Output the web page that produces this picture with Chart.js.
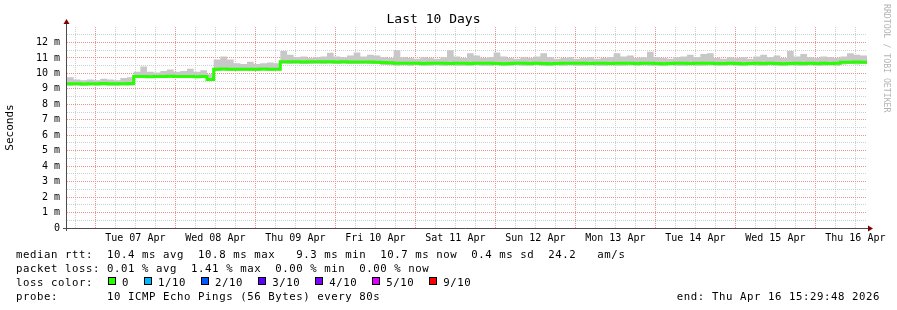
<!DOCTYPE html>
<html>
<head>
<meta charset="utf-8">
<title>Last 10 Days</title>
<script src="https://cdn.jsdelivr.net/npm/chart.js@4.4.1/dist/chart.umd.min.js"></script>
<style>
  body { margin: 0; background: #fff; }
  #wrap { position: relative; width: 897px; height: 310px; overflow: hidden; background: #fff; }
  #chart { position: absolute; left: 0; top: 0; }
  .txt { position: absolute; font-family: 'DejaVu Sans Mono', monospace; font-size: 10.7px; letter-spacing: 0.57px; line-height: 14.2px; color: #000; white-space: pre; }
  .sw { display: inline-block; width: 6px; height: 6px; border: 1px solid #000; margin: 0 6px 0 15px; vertical-align: 1px; }
  #mark { position: absolute; left: 882px; top: 4px; writing-mode: vertical-rl; font-family: 'DejaVu Sans Mono', monospace; font-size: 8.2px; color: #b4b4b4; white-space: pre; }
</style>
</head>
<body>
<div id="wrap">
  <canvas id="chart" width="897" height="310"></canvas>
  <div id="mark">RRDTOOL / TOBI OETIKER</div>
  <div class="txt" style="left:16px; top:247.7px;">median rtt:  10.4 ms avg  10.8 ms max   9.3 ms min  10.7 ms now  0.4 ms sd  24.2   am/s
packet loss: 0.01 % avg  1.41 % max  0.00 % min  0.00 % now
loss color:<span class="sw" style="background:#26ff00"></span>0<span class="sw" style="background:#00b8ff"></span>1/10<span class="sw" style="background:#0059ff"></span>2/10<span class="sw" style="background:#5e00ff"></span>3/10<span class="sw" style="background:#7e00ff"></span>4/10<span class="sw" style="background:#dd00ff"></span>5/10<span class="sw" style="background:#ff0000"></span>9/10
probe:       10 ICMP Echo Pings (56 Bytes) every 80s</div>
  <div class="txt" style="right:17px; top:290.3px;">end: Thu Apr 16 15:29:48 2026</div>
</div>
<script>
// 10 days = 240 h, one value per 2 h bin, start = Mon Apr 6 15:29:48
const spanHours = 240;
const binHours = 2;
const firstMidnight = 8.503; // hours from start to Tue 07 Apr 00:00
const dayLabels = ['Tue 07 Apr', 'Wed 08 Apr', 'Thu 09 Apr', 'Fri 10 Apr', 'Sat 11 Apr',
                   'Sun 12 Apr', 'Mon 13 Apr', 'Tue 14 Apr', 'Wed 15 Apr', 'Thu 16 Apr'];

// median rtt (ms)
const median = [
  9.33, 9.33, 9.32, 9.33, 9.33, 9.34, 9.33, 9.33, 9.33, 9.35,
  9.8, 9.8, 9.79, 9.8, 9.8, 9.81, 9.8, 9.8, 9.8, 9.79,
  9.8, 9.6, 10.27, 10.28, 10.27, 10.27, 10.26, 10.27, 10.27, 10.28,
  10.27, 10.27, 10.75, 10.76, 10.75, 10.74, 10.75, 10.76, 10.75, 10.75,
  10.74, 10.75, 10.74, 10.73, 10.74, 10.73, 10.72, 10.7, 10.68, 10.66,
  10.65, 10.66, 10.65, 10.64, 10.65, 10.66, 10.65, 10.64, 10.65, 10.65,
  10.64, 10.65, 10.66, 10.65, 10.64, 10.63, 10.64, 10.65, 10.65, 10.64,
  10.65, 10.64, 10.63, 10.64, 10.65, 10.65, 10.66, 10.65, 10.64, 10.65,
  10.65, 10.64, 10.65, 10.66, 10.65, 10.64, 10.65, 10.65, 10.64, 10.63,
  10.64, 10.65, 10.65, 10.64, 10.65, 10.66, 10.65, 10.64, 10.64, 10.65,
  10.64, 10.63, 10.64, 10.65, 10.64, 10.65, 10.64, 10.63, 10.64, 10.65,
  10.64, 10.65, 10.64, 10.65, 10.64, 10.65, 10.72, 10.72, 10.73, 10.72
];

// smoke: slowest ping per bin (ms)
const smokeMax = [
  9.75, 9.6, 9.55, 9.6, 9.55, 9.65, 9.6, 9.55, 9.7, 9.75,
  10.1, 10.45, 10.1, 10.05, 10.15, 10.25, 10.1, 10.15, 10.3, 10.1,
  10.2, 9.95, 10.9, 11.1, 10.9, 10.65, 10.6, 10.75, 10.6, 10.65,
  10.7, 10.65, 11.45, 11.2, 11.05, 11.1, 11.0, 11.05, 11.1, 11.33,
  11.1, 11.05, 11.15, 11.35, 11.1, 11.2, 11.15, 11.05, 11.0, 11.5,
  11.05, 11.0, 10.95, 11.05, 11.0, 10.95, 11.05, 11.5, 11.1, 11.0,
  11.3, 11.15, 11.0, 11.05, 11.35, 11.1, 11.0, 10.95, 11.05, 11.0,
  11.1, 11.3, 11.05, 10.95, 11.0, 11.05, 10.95, 11.0, 11.05, 10.95,
  11.0, 11.05, 11.3, 11.1, 11.15, 11.0, 11.05, 11.4, 11.05, 11.0,
  10.95, 11.05, 11.1, 11.2, 11.05, 11.25, 11.3, 11.0, 10.95, 11.05,
  11.0, 11.05, 10.95, 11.1, 11.2, 11.05, 11.15, 11.0, 11.45, 11.1,
  11.25, 11.05, 11.0, 11.1, 11.05, 11.0, 11.1, 11.3, 11.2, 11.15
];

// smoke: fastest ping per bin (ms)
const smokeMin = [
  9.2, 9.22, 9.2, 9.22, 9.2, 9.22, 9.2, 9.2, 9.22, 9.2,
  9.7, 9.72, 9.7, 9.72, 9.7, 9.7, 9.72, 9.7, 9.72, 9.7,
  9.72, 9.5, 10.15, 10.18, 10.15, 10.15, 10.18, 10.15, 10.15, 10.18,
  10.15, 10.18, 10.62, 10.6, 10.62, 10.6, 10.6, 10.62, 10.6, 10.62,
  10.6, 10.62, 10.6, 10.6, 10.62, 10.6, 10.6, 10.55, 10.52, 10.5,
  10.52, 10.5, 10.52, 10.5, 10.5, 10.52, 10.5, 10.52, 10.5, 10.5,
  10.5, 10.52, 10.5, 10.5, 10.52, 10.5, 10.5, 10.52, 10.5, 10.5,
  10.52, 10.5, 10.5, 10.52, 10.5, 10.52, 10.5, 10.5, 10.52, 10.5,
  10.5, 10.52, 10.5, 10.5, 10.52, 10.5, 10.52, 10.5, 10.5, 10.5,
  10.52, 10.5, 10.5, 10.52, 10.5, 10.5, 10.52, 10.5, 10.5, 10.52,
  10.5, 10.5, 10.52, 10.5, 10.5, 10.52, 10.5, 10.5, 10.52, 10.5,
  10.5, 10.52, 10.5, 10.5, 10.52, 10.5, 10.58, 10.6, 10.58, 10.6
];

const font = 'DejaVu Sans Mono';
const majorGrid = '#f29090';
const minorGrid = '#d0d0d0';

function toPoints(arr) {
    const pts = arr.map((v, i) => ({ x: i * binHours, y: v }));
    pts.push({ x: arr.length * binHours, y: arr[arr.length - 1] });
    return pts;
}

function isMidnight(h) {
    const r = (((h - firstMidnight) % 24) + 24) % 24;
    return r < 0.01 || r > 23.99;
}

const axisArrows = {
    id: 'axisArrows',
    afterDraw(chart) {
        const { ctx, chartArea } = chart;
        const { left, right, top, bottom } = chartArea;
        ctx.save();
        ctx.strokeStyle = '#4c4c4c';
        ctx.lineWidth = 1;
        ctx.beginPath();
        ctx.moveTo(left - 0.5, bottom + 3);
        ctx.lineTo(left - 0.5, top - 4);
        ctx.moveTo(left - 4, bottom + 0.5);
        ctx.lineTo(right + 1, bottom + 0.5);
        ctx.stroke();
        ctx.fillStyle = '#800000';
        ctx.beginPath();
        ctx.moveTo(left - 3.5, top - 3);
        ctx.lineTo(left + 2.5, top - 3);
        ctx.lineTo(left - 0.5, top - 8);
        ctx.closePath();
        ctx.fill();
        ctx.beginPath();
        ctx.moveTo(right + 1, bottom - 2.5);
        ctx.lineTo(right + 1, bottom + 3.5);
        ctx.lineTo(right + 6, bottom + 0.5);
        ctx.closePath();
        ctx.fill();
        ctx.restore();
    }
};

new Chart(document.getElementById('chart').getContext('2d'), {
    type: 'line',
    data: {
        datasets: [{
            label: 'median rtt',
            data: toPoints(median),
            borderColor: '#26ff00',
            borderWidth: 3,
            stepped: true,
            pointRadius: 0,
            fill: false
        }, {
            label: 'smoke max',
            data: toPoints(smokeMax),
            borderWidth: 0,
            borderColor: 'rgba(0,0,0,0)',
            backgroundColor: '#c8c8c8',
            stepped: true,
            pointRadius: 0,
            fill: '+1'
        }, {
            label: 'smoke min',
            data: toPoints(smokeMin),
            borderWidth: 0,
            borderColor: 'rgba(0,0,0,0)',
            stepped: true,
            pointRadius: 0,
            fill: false
        }]
    },
    options: {
        responsive: false,
        animation: false,
        events: [],
        layout: { padding: { left: 0, right: 30, top: 0, bottom: 0 } },
        plugins: {
            legend: { display: false },
            tooltip: { enabled: false },
            title: {
                display: true,
                text: 'Last 10 Days',
                color: '#000',
                font: { family: font, size: 13, weight: 'normal', lineHeight: 15 / 13 },
                padding: { top: 12, bottom: 0 }
            }
        },
        scales: {
            x: {
                type: 'linear',
                min: 0,
                max: spanHours,
                afterBuildTicks: scale => {
                    const ticks = [];
                    for (let h = firstMidnight - 6; h < spanHours; h += 6) ticks.push({ value: h });
                    scale.ticks = ticks;
                },
                afterFit: scale => { scale.height = 82; },
                ticks: {
                    autoSkip: false,
                    maxRotation: 0,
                    padding: 4,
                    color: '#000',
                    font: { family: font, size: 10 },
                    callback: value => {
                        const k = (value - firstMidnight - 12) / 24;
                        const i = Math.round(k);
                        return Math.abs(k - i) < 0.01 && dayLabels[i] ? dayLabels[i] : '';
                    }
                },
                grid: {
                    drawTicks: false,
                    color: c => isMidnight(c.tick.value) ? majorGrid : minorGrid
                },
                border: { display: false, dash: [1, 1] }
            },
            y: {
                min: 0,
                max: 13,
                afterFit: scale => { scale.width = 67; },
                title: {
                    display: true,
                    text: 'Seconds',
                    color: '#000',
                    font: { family: font, size: 11 },
                    padding: { top: 4, bottom: 0 }
                },
                ticks: {
                    stepSize: 0.5,
                    autoSkip: false,
                    padding: 7,
                    color: '#000',
                    font: { family: font, size: 10 },
                    callback: v => v === 0 ? '0' : (Number.isInteger(v) && v < 13 ? v + ' m' : '')
                },
                grid: {
                    drawTicks: false,
                    color: c => {
                        const v = c.tick.value;
                        if (v === 0 || v === 13) return 'rgba(0,0,0,0)';
                        return Number.isInteger(v) ? majorGrid : minorGrid;
                    }
                },
                border: { display: false, dash: [1, 1] }
            }
        }
    },
    plugins: [axisArrows]
});
</script>
</body>
</html>
